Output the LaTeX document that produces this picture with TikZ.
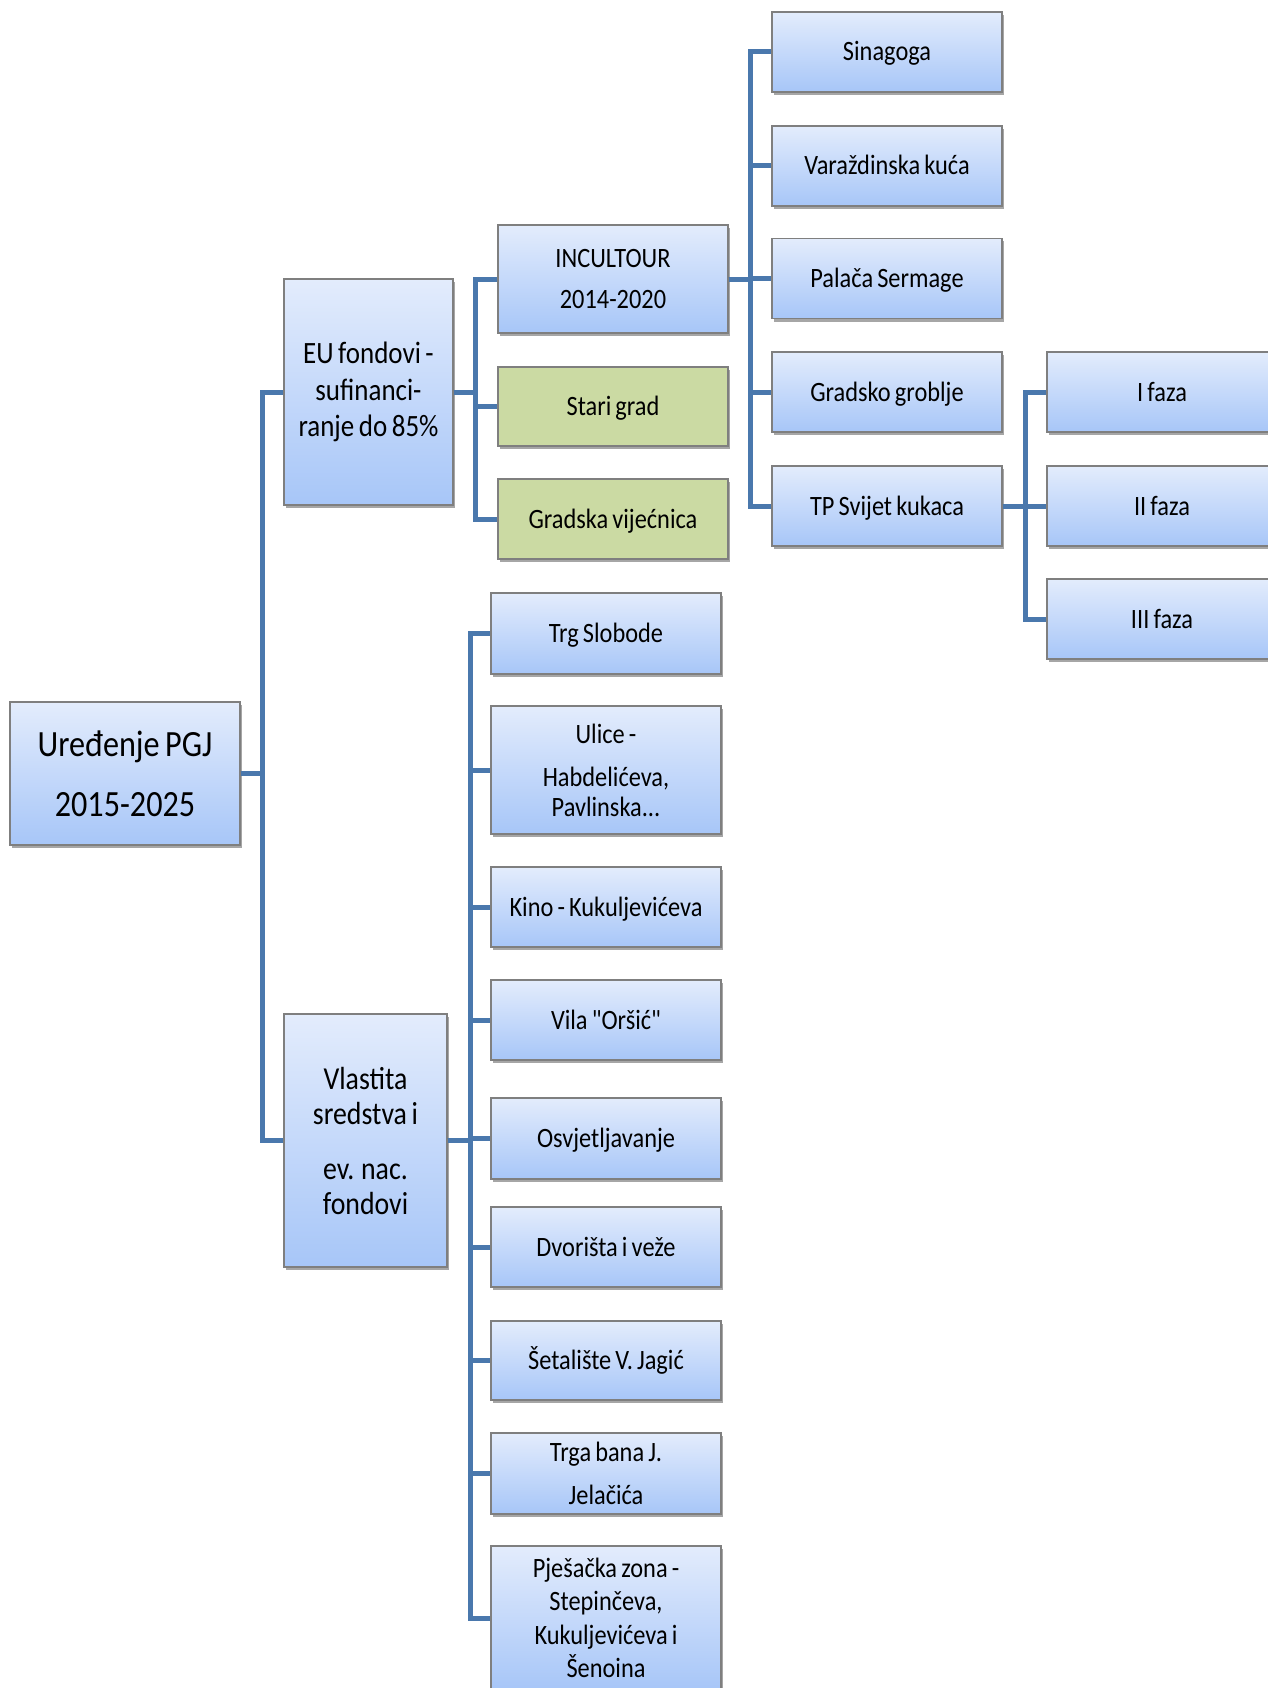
\documentclass[tikz,border=0pt]{standalone}
\usepackage{fontspec}
\setmainfont{Carlito}[FakeStretch=0.87, Ligatures=TeXOff, WordSpace=0.75]
\usetikzlibrary{shadows}
\definecolor{btop}{HTML}{E3ECFC}
\definecolor{bbot}{HTML}{A7C6F8}
\definecolor{gfill}{HTML}{CBDAA3}
\definecolor{bline}{HTML}{7F7F7F}
\definecolor{cline}{HTML}{4A78AD}
\tikzset{
  bbox/.style={draw=bline, line width=1.2pt, top color=btop, bottom color=bbot,
    minimum width=230pt, minimum height=80pt, inner sep=0pt, align=center,
    drop shadow={shadow xshift=2pt, shadow yshift=-3pt, opacity=0.35, fill=black},
    font=\fontsize{28}{33}\selectfont},
  gbox/.style={bbox, top color=gfill, bottom color=gfill},
  one/.style={text height=18pt, text depth=0pt},
  conn/.style={draw=cline, line width=5pt}
}
\begin{document}
\begin{tikzpicture}[x=1pt,y=-1pt]
\fill[white] (0,0) rectangle (1268,1688);
\useasboundingbox (0,0) rectangle (1268,1688);

% root
\node[bbox, minimum width=230pt, minimum height=143pt, font=\fontsize{37}{60}\selectfont] (root) at (125,773.5) {Uređenje PGJ\\2015-2025};

% level 1
\node[bbox, minimum width=169pt, minimum height=226pt, font=\fontsize{31}{36.5}\selectfont] (eu) at (368.5,392) {EU fondovi -\\sufinanci-\\ranje do 85\%};
\node[bbox, minimum width=163pt, minimum height=253pt, font=\fontsize{32}{35}\selectfont] (vl) at (365.5,1140.5) {Vlastita\\sredstva i\\[20pt]ev. nac.\\fondovi};

% EU children
\node[bbox, minimum height=108pt, font=\fontsize{28}{41}\selectfont] (inc) at (613,279) {INCULTOUR\\2014-2020};
\node[gbox, one, minimum height=79pt] (stari) at (613,406.5) {Stari grad};
\node[gbox, one] (gv) at (613,519) {Gradska vijećnica};

% INCULTOUR children
\node[bbox, one] (sin) at (887,52) {Sinagoga};
\node[bbox, one] (var) at (887,166) {Varaždinska kuća};
\node[bbox, one] (pal) at (887,278.5) {Palača Sermage};
\node[bbox, one] (gg) at (887,392) {Gradsko groblje};
\node[bbox, one] (tp) at (887,506) {TP Svijet kukaca};

% faze
\node[bbox, one] (f1) at (1162,392) {I faza};
\node[bbox, one] (f2) at (1162,506) {II faza};
\node[bbox, one] (f3) at (1162,619) {III faza};

% Vlastita children
\node[bbox, one, minimum height=81pt] (trg) at (606,633.5) {Trg Slobode};
\node[bbox, minimum height=128pt, font=\fontsize{28}{30}\selectfont] (ul) at (606,770) {Ulice -\\[13pt]Habdelićeva,\\Pavlinska...};
\node[bbox, one] (kino) at (606,907) {Kino - Kukuljevićeva};
\node[bbox, one] (vila) at (606,1020) {Vila "Oršić"};
\node[bbox, one, minimum height=81pt] (osv) at (606,1138.5) {Osvjetljavanje};
\node[bbox, one] (dvo) at (606,1247) {Dvorišta i veže};
\node[bbox, one, minimum height=79pt] (set) at (606,1360.5) {Šetalište V. Jagić};
\node[bbox, minimum height=81pt, font=\fontsize{28}{43}\selectfont] (tb) at (606,1473.5) {Trga bana J.\\Jelačića};
\node[bbox, minimum height=144pt, font=\fontsize{28}{33.3}\selectfont] (pj) at (606,1618) {Pješačka zona -\\Stepinčeva,\\Kukuljevićeva i\\Šenoina};

% connectors
\foreach \c in {eu,vl} \draw[conn] (root.east) -- ++(22,0) |- (\c.west);
\foreach \c in {inc,stari,gv} \draw[conn] (eu.east) -- ++(22,0) |- (\c.west);
\foreach \c in {sin,var,pal,gg,tp} \draw[conn] (inc.east) -- ++(22,0) |- (\c.west);
\foreach \c in {f1,f2,f3} \draw[conn] (tp.east) -- ++(23,0) |- (\c.west);
\foreach \c in {trg,ul,kino,vila,osv,dvo,set,tb,pj} \draw[conn] (vl.east) -- ++(23,0) |- (\c.west);
\end{tikzpicture}
\end{document}
